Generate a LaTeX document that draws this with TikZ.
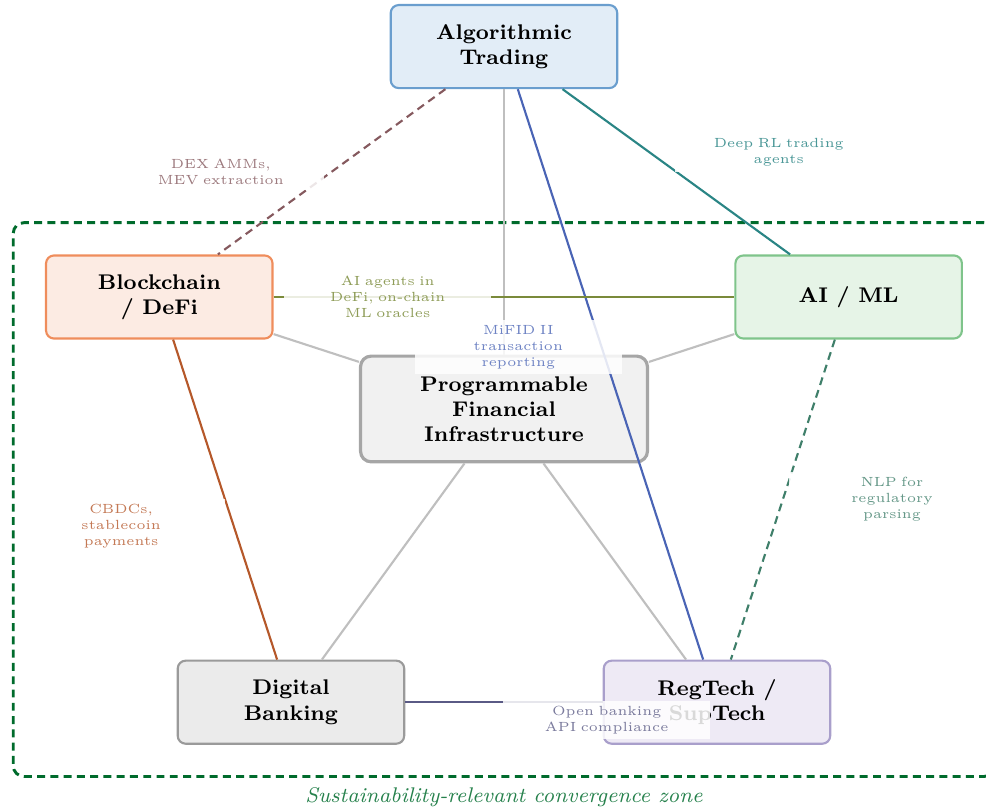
\documentclass[tikz,border=0pt]{standalone}
\usepackage{tikz}
\usetikzlibrary{fit}
\usepackage{xcolor}

\definecolor{algofill}{HTML}{E2EDF7}
\definecolor{algoline}{HTML}{6A9ECE}
\definecolor{chainfill}{HTML}{FCEBE3}
\definecolor{chainline}{HTML}{EF8D5C}
\definecolor{aifill}{HTML}{E6F4E7}
\definecolor{ailine}{HTML}{7FC48B}
\definecolor{progfill}{HTML}{F1F1F1}
\definecolor{progline}{HTML}{A6A6A6}
\definecolor{bankfill}{HTML}{EBEBEB}
\definecolor{bankline}{HTML}{9A9A9A}
\definecolor{regfill}{HTML}{EEEAF5}
\definecolor{regline}{HTML}{A99FCB}
\definecolor{dexcol}{HTML}{85595E}
\definecolor{rlcol}{HTML}{2A8585}
\definecolor{mifidcol}{HTML}{4A64B5}
\definecolor{agentcol}{HTML}{7A8A3A}
\definecolor{cbdccol}{HTML}{B5582A}
\definecolor{nlpcol}{HTML}{3F7F6A}
\definecolor{opencol}{HTML}{5A5A85}
\definecolor{zonecol}{HTML}{006B2C}

\begin{document}
\begin{tikzpicture}[
  domainbox/.style={rectangle, rounded corners=3pt, thick, minimum width=3cm, minimum height=1.1cm, align=center, font=\footnotesize\bfseries},
  hubbox/.style={rectangle, rounded corners=4pt, very thick, minimum width=3.8cm, minimum height=1.4cm, align=center, font=\footnotesize\bfseries},
  spoke/.style={color=black!25, line width=0.8pt},
  link/.style={thick},
  dashlink/.style={thick, dash pattern=on 3pt off 2pt},
  linklabel/.style={fill=white, fill opacity=0.85, text opacity=1, text width=2.6cm, align=center, inner sep=2pt, font=\tiny}
]

\useasboundingbox (-6.675,-5.285) rectangle (6.384,5.417);

% Domains on a pentagon round the hub
\node[hubbox, fill=progfill, draw=progline] (prog) at (0,0) {Programmable\\Financial\\Infrastructure};
\node[domainbox, fill=algofill, draw=algoline]   (algo)  at (90:4.8)  {Algorithmic\\Trading};
\node[domainbox, fill=chainfill, draw=chainline] (chain) at (162:4.8) {Blockchain\\/ DeFi};
\node[domainbox, fill=aifill, draw=ailine]       (aiml)  at (18:4.8)  {AI / ML};
\node[domainbox, fill=bankfill, draw=bankline]   (bank)  at (234:4.8) {Digital\\Banking};
\node[domainbox, fill=regfill, draw=regline]     (reg)   at (306:4.8) {RegTech /\\SupTech};

% Convergence zone
\node[draw=zonecol, line width=1.1pt, dash pattern=on 3pt off 2pt, rounded corners=4pt, inner sep=0.42cm, fit=(chain)(aiml)(bank)(reg)] (zone) {};
\node[below, font=\footnotesize\itshape, text=zonecol!85] (zonetext) at (zone.south) {Sustainability-relevant convergence zone};

% Hub spokes
\draw[spoke] (prog) -- (algo);
\draw[spoke] (prog) -- (chain);
\draw[spoke] (prog) -- (aiml);
\draw[spoke] (prog) -- (bank);
\draw[spoke] (prog) -- (reg);

% Cross-domain links
\draw[dashlink, dexcol]   (algo)  -- (chain);
\draw[link, rlcol]        (algo)  -- (aiml);
\draw[link, mifidcol]     (algo)  -- (reg);
\draw[link, agentcol]     (chain) -- (aiml);
\draw[link, cbdccol]      (chain) -- (bank);
\draw[dashlink, nlpcol]   (aiml)  -- (reg);
\draw[link, opencol]      (bank)  -- (reg);

% Link labels
\node[linklabel, text=dexcol!80]   (dexlbl)    at (-3.75,3.14) {DEX AMMs,\\MEV extraction};
\node[linklabel, text=rlcol!85]    (rllbl)     at (3.64,3.40)  {Deep RL trading\\agents};
\node[linklabel, text=agentcol!85] (agentlbl)  at (-1.54,1.48) {AI agents in\\DeFi, on-chain\\ML oracles};
\node[linklabel, text=mifidcol!80] (mifidlbl)  at (0.19,0.82)  {MiFID II\\transaction\\reporting};
\node[linklabel, text=cbdccol!80]  (cbdclbl)   at (-5.07,-1.55) {CBDCs,\\stablecoin\\payments};
\node[linklabel, text=nlpcol!80]   (nlplbl)    at (5.14,-1.19) {NLP for\\regulatory\\parsing};
\node[linklabel, text=opencol!80]  (openlbl)   at (1.36,-4.12) {Open banking\\API compliance};

\end{tikzpicture}
\end{document}
